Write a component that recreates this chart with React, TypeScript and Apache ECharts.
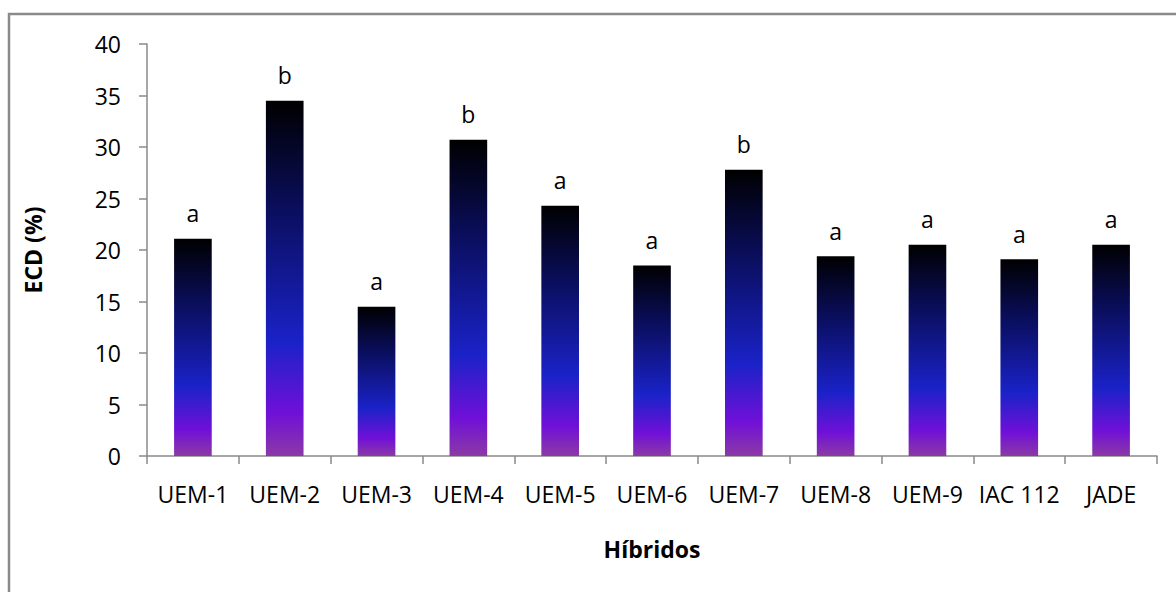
import React, { useEffect, useRef } from "react";
import * as echarts from "echarts";

const categories = ["UEM-1", "UEM-2", "UEM-3", "UEM-4", "UEM-5", "UEM-6", "UEM-7", "UEM-8", "UEM-9", "IAC 112", "JADE"];
const ecdValues = [21.1, 34.5, 14.5, 30.7, 24.3, 18.5, 27.8, 19.4, 20.5, 19.1, 20.5];
const letters = ["a", "b", "a", "b", "a", "a", "b", "a", "a", "a", "a"];
const yTicks = { min: 0, max: 40, interval: 5 };

const FONT = "'Open Sans', 'Noto Sans', sans-serif";

export default function App() {
  const ref = useRef<HTMLDivElement>(null);
  useEffect(() => {
    if (!ref.current) return;
    const chart = echarts.init(ref.current, undefined, { renderer: "svg" });
    const gradient = new echarts.graphic.LinearGradient(0, 0, 0, 1, [
      { offset: 0, color: "#000000" },
      { offset: 0.3, color: "#0a0e5c" },
      { offset: 0.68, color: "#1a22c8" },
      { offset: 0.88, color: "#7010d8" },
      { offset: 1, color: "#8b3aa5" },
    ]);
    chart.setOption({
      animation: false,
      backgroundColor: "#ffffff",
      graphic: [
        {
          type: "rect",
          shape: { x: 9, y: 14, width: 1300, height: 800 },
          style: { fill: "none", stroke: "#8a8a8a", lineWidth: 2.5 },
          silent: true,
        },
      ],
      grid: { left: 147, right: 19, top: 44, bottom: 136, containLabel: false },
      xAxis: {
        type: "category",
        data: categories,
        name: "Híbridos",
        nameLocation: "middle",
        nameGap: 81,
        nameTextStyle: { fontFamily: FONT, fontSize: 23, fontWeight: "bold", color: "#000" },
        axisLine: { show: true, lineStyle: { color: "#8a8a8a", width: 1.5 } },
        axisTick: { show: true, length: 8, lineStyle: { color: "#8a8a8a", width: 1.5 } },
        axisLabel: { fontFamily: FONT, fontSize: 23, color: "#000", margin: 26, interval: 0 },
      },
      yAxis: {
        type: "value",
        min: yTicks.min,
        max: yTicks.max,
        interval: yTicks.interval,
        name: "ECD (%)",
        nameLocation: "middle",
        nameGap: 103,
        nameTextStyle: { fontFamily: FONT, fontSize: 23, fontWeight: "bold", color: "#000" },
        axisLine: { show: true, lineStyle: { color: "#8a8a8a", width: 1.5 } },
        axisTick: { show: true, length: 8, lineStyle: { color: "#8a8a8a", width: 1.5 } },
        axisLabel: { fontFamily: FONT, fontSize: 23, color: "#000", margin: 26 },
        splitLine: { show: false },
      },
      series: [
        {
          type: "bar",
          data: ecdValues,
          barWidth: "41%",
          itemStyle: { color: gradient },
          label: {
            show: true,
            position: "top",
            distance: 14,
            fontFamily: FONT,
            fontSize: 23,
            color: "#000",
            formatter: (p: any) => letters[p.dataIndex],
          },
        },
      ],
    });
    return () => chart.dispose();
  }, []);
  return (
    <div
      ref={ref}
      style={{ position: "absolute", left: 0, top: 0, width: 1176, height: 592 }}
    />
  );
}
